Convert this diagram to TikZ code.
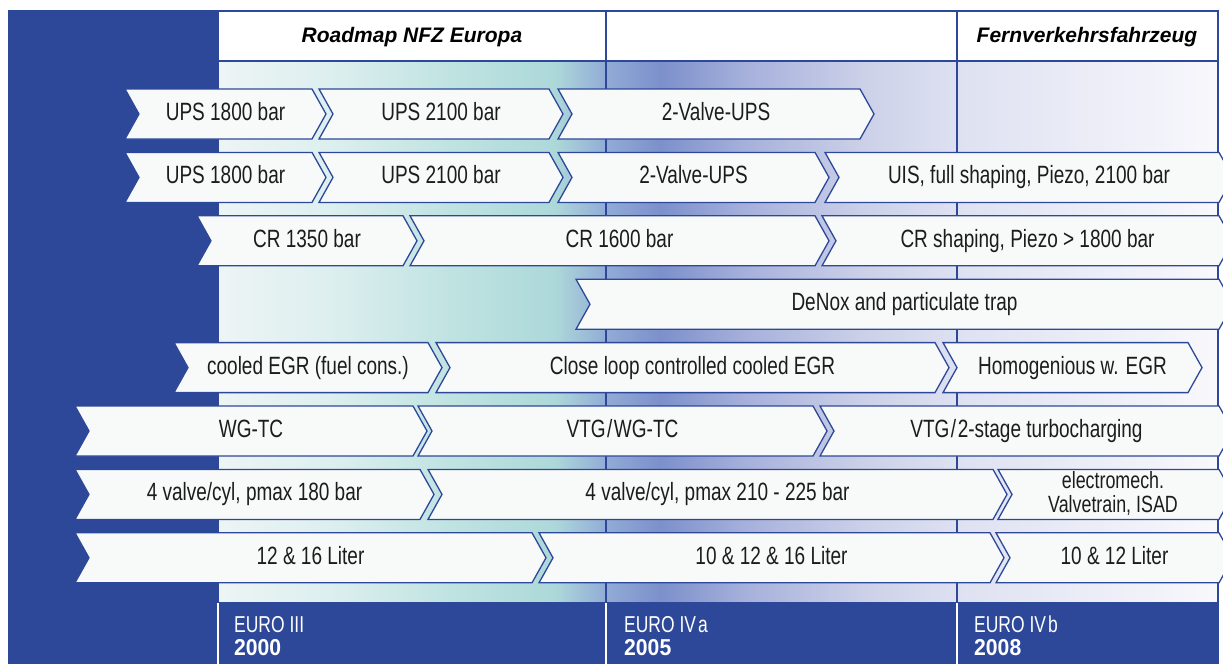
\documentclass[tikz,border=0pt]{standalone}
\usepackage{fontspec}
\setmainfont{Liberation Sans}
\newfontfamily\labfont[FakeStretch=0.76]{Liberation Sans}
\newfontfamily\yearfont[FakeStretch=0.92]{Liberation Sans}

\definecolor{frameblue}{HTML}{2E4899}
\definecolor{boxfill}{HTML}{F8FAFA}
\definecolor{ink}{HTML}{1C1C1C}
% background colour stops, left to right
\definecolor{g0}{HTML}{EDF4F5}
\definecolor{g1}{HTML}{DDEFEF}
\definecolor{g2}{HTML}{BFE3E1}
\definecolor{g3}{HTML}{ADD8D9}
\definecolor{g4}{HTML}{92ACD6}
\definecolor{g5}{HTML}{7C90CB}
\definecolor{g6}{HTML}{A6B0DB}
\definecolor{g7}{HTML}{CBD0E8}
\definecolor{g8}{HTML}{DEE1F1}
\definecolor{g9}{HTML}{F8F8FC}

\tikzset{
  chevron/.style={fill=boxfill, draw=frameblue, line width=1.3pt, line join=miter},
  lbl/.style={font=\labfont\fontsize{25}{22}\selectfont, text=ink, anchor=base, inner sep=0pt},
  headlbl/.style={font=\bfseries\itshape\fontsize{21}{21}\selectfont, text=black, anchor=base, inner sep=0pt},
  eurolbl/.style={font=\labfont\fontsize{23}{23}\selectfont, text=white, anchor=base west, inner sep=0pt},
  yearlbl/.style={font=\yearfont\bfseries\fontsize{23}{23}\selectfont, text=white, anchor=base west, inner sep=0pt},
  gridline/.style={draw=frameblue, line width=1.5pt},
}

% chevron outline: left edge #1, right edge #2, top #3 (height 50, point depth 14)
\newcommand\chevshape[3]{%
  \draw[chevron] (#1,#3) -- (#2,#3) -- ({#2+14},{#3+25}) -- (#2,{#3+50})
    -- (#1,{#3+50}) -- ({#1+14},{#3+25}) -- cycle;}
% chevron with its centred label: name #1, left #2, right #3, top #4, text #5
\newcommand\chevbox[5]{%
  \chevshape{#2}{#3}{#4}%
  \node[lbl] (#1) at ({(#2+#3)/2+7},{#4+31.5}) {#5};}

\begin{document}
\begin{tikzpicture}[x=1pt,y=-1pt]
\useasboundingbox (0,0) rectangle (1223,664);
\clip (0,0) rectangle (1223,664);

% dark frame: left column and bottom band
\fill[frameblue] (8,10) rectangle (218,664);
\fill[frameblue] (8,603) rectangle (1219,664);

% header cells
\fill[white] (218,11) rectangle (1218,61);
\node[headlbl] (roadmap) at (412,42) {Roadmap NFZ Europa};
\node[headlbl] (fernv) at (1087,42) {Fernverkehrsfahrzeug};

% shaded background of the time line
\foreach \xa/\xb/\ca/\cb in {218/330/g0/g1, 330/450/g1/g2, 450/555/g2/g3,
    555/605/g3/g4, 605/660/g4/g5, 660/745/g5/g6, 745/860/g6/g7,
    860/957/g7/g8, 957/1218/g8/g9}
  \fill[left color=\ca, right color=\cb] (\xa,61) rectangle ({\xb+0.6},603);

% frame and period lines
\draw[gridline] (218,11) rectangle (1218,603);
\draw[gridline] (218,61) -- (1218,61);
\draw[gridline] (606,11) -- (606,603);
\draw[gridline] (957,11) -- (957,603);
\draw[white, line width=1.5pt] (218,603) -- (218,664);
\draw[white, line width=1.5pt] (606,603) -- (606,664);
\draw[white, line width=1.5pt] (957,603) -- (957,664);

% row 1
\chevbox{upsA}{125}{312}{89}{UPS 1800 bar}
\chevbox{upsB}{319}{549}{89}{UPS 2100 bar}
\chevbox{valveA}{558}{860}{89}{2-Valve-UPS}
% row 2
\chevbox{upsC}{125}{312}{152.4}{UPS 1800 bar}
\chevbox{upsD}{319}{549}{152.4}{UPS 2100 bar}
\chevbox{valveB}{558}{815}{152.4}{2-Valve-UPS}
\chevbox{uis}{825}{1219}{152.4}{UIS, full shaping, Piezo, 2100 bar}
% row 3
\chevbox{crA}{197}{403}{215.8}{CR 1350 bar}
\chevbox{crB}{410}{815}{215.8}{CR 1600 bar}
\chevbox{crC}{822}{1219}{215.8}{CR shaping, Piezo > 1800 bar}
% row 4
\chevbox{denox}{576}{1219}{279.2}{DeNox and particulate trap}
% row 5
\chevbox{egrA}{174}{428}{342.6}{cooled EGR (fuel cons.)}
\chevbox{egrB}{436}{935}{342.6}{Close loop controlled cooled EGR}
\chevbox{egrC}{943}{1188}{342.6}{Homogenious w. EGR}
% row 6
\chevbox{tcA}{75}{413}{406}{WG-TC}
\chevbox{tcB}{418}{813}{406}{VTG\kern1.5pt/\kern1.5pt WG-TC}
\chevbox{tcC}{820}{1219}{406}{VTG\kern1.5pt/\kern1.5pt 2-stage turbocharging}
% row 7
\chevbox{vtA}{75}{420}{469.4}{4 valve/cyl, pmax 180 bar}
\chevbox{vtB}{428}{993}{469.4}{4 valve/cyl, pmax 210 - 225 bar}
\chevshape{998}{1219}{469.4}
\node[font=\labfont\fontsize{23.5}{23.5}\selectfont, text=ink, align=center, inner sep=0pt]
  (vtC) at (1113,493.5) {electromech.\\Valvetrain, ISAD};
% row 8
\chevbox{litA}{75}{532}{532.8}{12 \& 16 Liter}
\chevbox{litB}{539}{990}{532.8}{10 \& 12 \& 16 Liter}
\chevbox{litC}{996}{1219}{532.8}{10 \& 12 Liter}

% emission stages
\node[eurolbl] (euro3) at (234,632) {EURO III};
\node[yearlbl] (y2000) at (234,655) {2000};
\node[eurolbl] (euro4a) at (624,632) {EURO IV\kern2pt a};
\node[yearlbl] (y2005) at (624,655) {2005};
\node[eurolbl] (euro4b) at (974,632) {EURO IV\kern2pt b};
\node[yearlbl] (y2008) at (974,655) {2008};
\end{tikzpicture}
\end{document}
